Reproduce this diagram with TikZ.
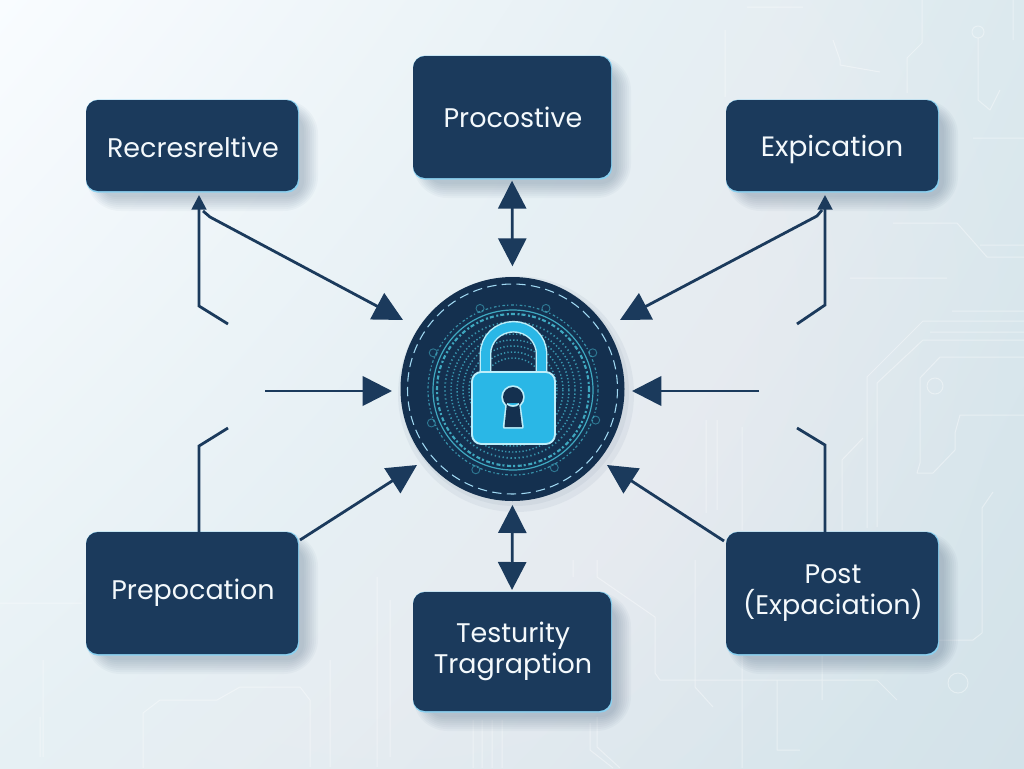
\documentclass[tikz,border=0pt]{standalone}
\usepackage{fontspec}
\setmainfont{Poppins}
\usetikzlibrary{arrows.meta,calc,shadings}
\definecolor{navy}{HTML}{1B3A5C}
\definecolor{hubdark}{HTML}{14304F}
\definecolor{glow}{HTML}{8AD0F0}
\definecolor{ringteal}{HTML}{3FA8C0}
\definecolor{lockblue}{HTML}{2AB7E6}
\definecolor{lockedge}{HTML}{BDEEFA}
\definecolor{labelwhite}{HTML}{F4F9FC}
\definecolor{bgul}{HTML}{F9FCFF}
\definecolor{bgur}{HTML}{DCE9EE}
\definecolor{bgll}{HTML}{E6F0F4}
\definecolor{bglr}{HTML}{D3E2E9}
% name, x1, y1, x2, y2, label, size, text dx, text dy
\newcommand{\softbox}[9]{%
  \foreach \e in {14,12,...,0}{
    \fill[navy,opacity=.032,rounded corners=12+\e] (#2+14-\e,#3+14-\e) rectangle (#4+6+\e,#5+6+\e);
  }
  \fill[glow,rounded corners=9pt] (#2,#3-.4) rectangle (#4+1.2,#5+1.6);
  \node[panel,minimum width={(#4-#2)*.75pt},minimum height={(#5-#3)*.75pt}] (#1) at ({(#2+#4)/2},{(#3+#5)/2}) {};
  \node[labeltext,font=\fontsize{#7}{23.4}\selectfont] (#1text) at ({(#2+#4)/2+#8},{(#3+#5)/2+#9}) {#6};
}
\tikzset{
  panel/.style={fill=navy,rounded corners=9pt,inner sep=0pt,outer sep=0pt},
  labeltext/.style={text=labelwhite,align=center,inner sep=0pt},
  wire/.style={draw=navy,line width=2.1pt,line join=miter},
  stemhead/.style={wire,-{Triangle[length=11pt,width=11pt]}},
  bighead/.style={wire,-{Triangle[length=22pt,width=22pt]}},
  twoway/.style={wire,{Triangle[length=21pt,width=21pt]}-{Triangle[length=21pt,width=21pt]}},
  trace/.style={draw=white,line width=.75pt,opacity=.38,line join=round},
  ringline/.style={draw=ringteal,line width=.9pt},
}
\begin{document}
\begin{tikzpicture}[x=.75pt,y=-.75pt]
\useasboundingbox (0,0) rectangle (1024,768);
\shade[upper left=bgul,upper right=bgur,lower left=bgll,lower right=bglr] (0,0) rectangle (1024,768);
\begin{scope}
\clip (0,0) rectangle (1024,768);
\foreach \r in {600,560,...,120}{
  \fill[white,opacity=.04] (400,320) circle[radius=\r];
}
\end{scope}
% background circuit traces
\draw[trace] (952,311)--(1024,311) (1024,321)--(923,321)--(867,377)--(867,528) (1024,332)--(930,332)
 (1024,340)--(923,340)--(877,383)--(877,527)
 (1024,357)--(940,357)--(920,378)--(920,463)--(917,473)--(933,473)--(955,450)--(955,433)--(960,415)--(1024,415)
 (993,492)--(982,508)--(982,633)--(973,640)--(938,640)
 (700,680)--(877,680)--(897,700) (822,653)--(822,700) (742,653)--(742,768) (777,680)--(777,750)--(800,750)
 (706,420)--(706,513) (717,420)--(717,510) (742,427)--(742,530) (842,530)--(842,460)--(863,438)
 (747,7)--(803,7) (725,30)--(725,97) (922,0)--(922,43)--(907,58)--(907,93)
 (833,40)--(840,60)--(840,65)--(880,72) (978,38)--(978,100)--(990,110)--(1000,90) (1013,0)--(1013,40)
 (973,138)--(1024,138) (893,223)--(957,223)--(987,257)--(1024,257) (980,245)--(1024,245) (850,278)--(947,278)
 (0,603)--(82,603) (43,660)--(43,757) (40,717)--(40,757)
 (143,768)--(143,713)--(160,700)--(217,700)--(240,687)--(300,687)--(310,700)--(310,767)
 (330,660)--(330,767) (377,577)--(377,767) (390,600)--(390,757)
 (597,560)--(597,577)--(655,617)--(655,673)--(660,680)--(800,680) (695,560)--(695,687)--(713,707)
 (473,720)--(473,768) (482,720)--(482,768) (492,720)--(492,768) (502,720)--(502,768)
 (597,717)--(597,747)--(620,768) (590,723)--(590,750)--(613,768) (573,560)--(573,577);
\draw[trace] (958,683) circle[radius=10] (978,32) circle[radius=6] (935,386) circle[radius=8];
% hub
\fill[navy,opacity=.05] (516,394) circle[radius=118];
\fill[navy,opacity=.05] (515,392) circle[radius=114];
\node[circle,fill=hubdark,minimum size=168pt,inner sep=0pt,outer sep=0pt] (hub) at (512.5,389) {};
\draw[draw=glow!80!white,line width=.8pt,dash pattern=on 7pt off 4pt] (hub.center) circle[radius=105];
\draw[ringline,opacity=.8,dash pattern=on 2pt off 1.5pt on 1pt off 2pt] (513,390) circle[radius=85];
\foreach \a in {20,62,115,158,205,248,292,335}{
  \draw[ringline,opacity=.6,line width=.7pt] (513,390) ++(\a:88) circle[radius=4];
}
\draw[ringline] (513,390) circle[radius=80];
\draw[ringline,line width=1.6pt,dash pattern=on 1.5pt off 1.5pt on 3pt off 2pt] (513,390) circle[radius=76];
\draw[ringline,opacity=.8,line width=1.3pt,dash pattern=on 1pt off 2pt] (513,390) circle[radius=68];
\foreach \r in {62,56,50,44,38,32}{
  \draw[ringline,opacity=.85,line width=1.1pt,dash pattern=on 1pt off 1.6pt] (513,390) circle[radius=\r];
}
% lock
\draw[draw=lockedge,line width=8.8pt] (485.5,374)--(485.5,354) .. controls (485.5,338.5) and (498,326.8) .. (513.5,326.8) .. controls (529,326.8) and (541.5,338.5) .. (541.5,354)--(541.5,374);
\draw[draw=lockblue,line width=6.6pt] (485.5,374)--(485.5,354) .. controls (485.5,338.5) and (498,326.8) .. (513.5,326.8) .. controls (529,326.8) and (541.5,338.5) .. (541.5,354)--(541.5,374);
\fill[lockblue,draw=lockedge,line width=1.4pt,rounded corners=7pt] (472,372) rectangle (555,444);
\draw[lockedge,line width=2.6pt,line join=round] (513,397) circle[radius=10] (507,405)--(504.5,427)--(522,427)--(519,405);
\fill[hubdark] (513,397) circle[radius=10] (507,403)--(504.5,427)--(522,427)--(519,403)--cycle;
% boxes
\softbox{rec}{86}{100}{298}{191}{Recresreltive}{20.2}{1}{1.5}
\softbox{pro}{413}{56}{611}{178}{Procostive}{20.2}{1}{0}
\softbox{exp}{726}{100}{938}{191}{Expication}{21}{0}{4}
\softbox{pre}{86}{532}{298}{654}{Prepocation}{20.2}{1}{0}
\softbox{tes}{413}{592}{611}{711}{Testurity\\Tragraption}{20.2}{1}{0}
\softbox{pos}{726}{532}{938}{654}{Post\\(Expaciation)}{20.2}{1}{0}
% connector ends
\coordinate (recfoot) at (228,324);
\coordinate (recbend) at (199,306);
\coordinate (rectip) at (199,195);
\coordinate (recjoin) at (203,211);
\coordinate (recelbow) at (210,217);
\coordinate (recin) at (403,320);
\coordinate (expfoot) at (797,324);
\coordinate (expbend) at (825,305);
\coordinate (exptip) at (825,195);
\coordinate (expjoin) at (822,210);
\coordinate (expelbow) at (817,216);
\coordinate (expin) at (620,320);
\coordinate (lefttail) at (265,391);
\coordinate (leftin) at (392,391);
\coordinate (righttail) at (759,391);
\coordinate (rightin) at (632,391);
\coordinate (prefoot) at (228,428);
\coordinate (prebend) at (199,446);
\coordinate (prestem) at (199,532);
\coordinate (preout) at (300,540);
\coordinate (prein) at (417,465);
\coordinate (posfoot) at (797,428);
\coordinate (posbend) at (825,445);
\coordinate (posstem) at (825,532);
\coordinate (posout) at (724,541);
\coordinate (posin) at (607,465);
% connectors
\draw[stemhead] (recfoot)--(recbend)--(rectip);
\draw[bighead] (recjoin)--(recelbow)--(recin);
\draw[stemhead] (expfoot)--(expbend)--(exptip);
\draw[bighead] (expjoin)--(expelbow)--(expin);
\draw[twoway,shorten <=2pt,shorten >=8pt] (pro.south)--(hub.north);
\draw[twoway,shorten <=3pt,shorten >=1.5pt] (hub.south)--(tes.north);
\draw[bighead] (lefttail)--(leftin);
\draw[bighead] (righttail)--(rightin);
\draw[wire] (prefoot)--(prebend)--(prestem);
\draw[bighead] (preout)--(prein);
\draw[wire] (posfoot)--(posbend)--(posstem);
\draw[bighead] (posout)--(posin);
\end{tikzpicture}
\end{document}
